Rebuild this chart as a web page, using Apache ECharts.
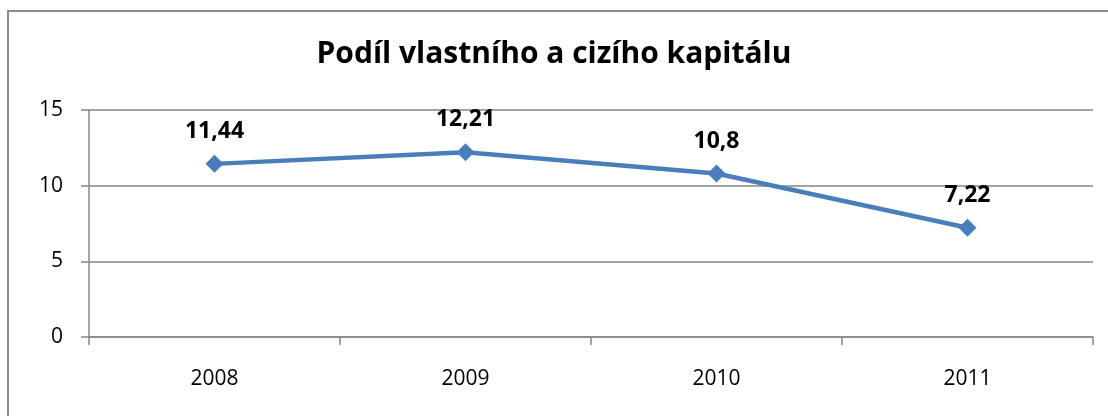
<!DOCTYPE html>
<html>
<head>
<meta charset="utf-8">
<script src="https://cdn.jsdelivr.net/npm/echarts@6/dist/echarts.min.js"></script>
<style>
  html, body { margin: 0; padding: 0; background: #fff; }
  #chart { width: 1108px; height: 416px; }
</style>
</head>
<body>
<div id="chart"></div>
<script>
// data
const years = ["2008", "2009", "2010", "2011"];
const values = [11.44, 12.21, 10.8, 7.22];
const titleText = "Podíl vlastního a cizího kapitálu";

const font = "'Open Sans', 'Liberation Sans', sans-serif";
const chart = echarts.init(document.getElementById("chart"));

chart.setOption({
  animation: false,
  title: {
    text: titleText,
    left: "center",
    top: 34,
    textStyle: { fontFamily: font, fontSize: 30, fontWeight: "bold", color: "#000" }
  },
  graphic: [
    {
      type: "rect",
      shape: { x: 8, y: 11, width: 1200, height: 500 },
      style: { fill: "none", stroke: "#8c8c8c", lineWidth: 2 },
      silent: true
    }
  ],
  grid: { left: 89, right: 15, top: 110, bottom: 79 },
  xAxis: {
    type: "category",
    data: years,
    boundaryGap: true,
    axisLine: { lineStyle: { color: "#868686", width: 1.5 } },
    axisTick: { show: true, length: 8, lineStyle: { color: "#868686", width: 1.5 } },
    axisLabel: { color: "#000", fontFamily: font, fontSize: 21, margin: 32 }
  },
  yAxis: {
    type: "value",
    min: 0,
    max: 15,
    interval: 5,
    axisLine: { show: true, lineStyle: { color: "#868686", width: 1.5 } },
    axisTick: { show: true, length: 8, lineStyle: { color: "#868686", width: 1.5 } },
    splitLine: { lineStyle: { color: "#868686", width: 1.5 } },
    axisLabel: {
      color: "#000",
      fontFamily: font,
      fontSize: 21,
      margin: 26,
      formatter: v => String(v)
    }
  },
  series: [
    {
      type: "line",
      data: values,
      symbol: "diamond",
      symbolSize: 18,
      lineStyle: { color: "#4A7EBB", width: 4.5 },
      itemStyle: { color: "#4A7EBB" },
      label: {
        show: true,
        position: "top",
        distance: 12,
        color: "#000",
        fontFamily: font,
        fontSize: 23,
        fontWeight: "bold",
        formatter: p => String(p.value).replace(".", ",")
      }
    }
  ]
});
</script>
</body>
</html>
